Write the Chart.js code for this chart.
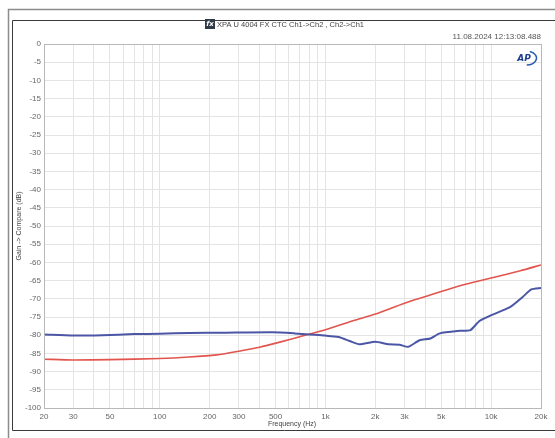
<!DOCTYPE html>
<html>
<head>
<meta charset="utf-8">
<script src="https://cdn.jsdelivr.net/npm/chart.js@4.4.1/dist/chart.umd.min.js"></script>
<style>
  html, body { margin: 0; padding: 0; background: #fff; }
  #wrap { position: relative; width: 555px; height: 438px; }
</style>
</head>
<body>
<div id="wrap"><canvas id="c" width="555" height="438"></canvas></div>
<script>
// values
const ch1Freq = [20, 30, 45, 70, 100, 150, 250, 480, 650, 800, 1000, 1200, 1400, 1600, 2000, 2400, 2800, 3150, 3700, 4300, 4900, 6500, 7500, 8500, 10000, 13000, 15500, 17500, 20000];
const ch1Gain = [-79.8, -80.1, -80.0, -79.7, -79.6, -79.4, -79.3, -79.2, -79.5, -79.8, -80.1, -80.5, -81.6, -82.5, -81.8, -82.5, -82.6, -83.2, -81.4, -80.9, -79.5, -78.8, -78.6, -76.1, -74.5, -72.3, -69.5, -67.4, -67.0];

const ch2Freq = [20, 30, 50, 100, 150, 220, 300, 400, 530, 700, 1000, 1500, 2000, 3000, 5000, 7000, 10000, 15000, 20000];
const ch2Gain = [-86.6, -86.8, -86.7, -86.4, -86.0, -85.4, -84.4, -83.3, -81.9, -80.4, -78.5, -75.9, -74.2, -71.2, -68.0, -66.0, -64.3, -62.3, -60.7];

const xLabels = { 20: '20', 30: '30', 50: '50', 100: '100', 200: '200', 300: '300', 500: '500',
  1000: '1k', 2000: '2k', 3000: '3k', 5000: '5k', 10000: '10k', 20000: '20k' };
const xGrid = [20, 30, 40, 50, 60, 70, 80, 90, 100, 200, 300, 400, 500, 600, 700, 800, 900,
  1000, 2000, 3000, 4000, 5000, 6000, 7000, 8000, 9000, 10000, 20000];

const pts = (xs, ys) => xs.map((x, i) => ({ x, y: ys[i] }));

const framePlugin = {
  id: 'frame',
  beforeDraw(chart) {
    const ctx = chart.ctx;
    ctx.save();
    ctx.fillStyle = '#fff';
    ctx.fillRect(0, 0, chart.width, chart.height);
    // outer window border
    ctx.strokeStyle = '#8c8c8c';
    ctx.lineWidth = 1.5;
    ctx.beginPath();
    ctx.moveTo(8.5, 438); ctx.lineTo(8.5, 9.5); ctx.lineTo(555, 9.5);
    ctx.stroke();
    // inner panel border
    ctx.strokeStyle = '#3a3a3a';
    ctx.lineWidth = 1;
    ctx.beginPath();
    ctx.moveTo(556, 20.5); ctx.lineTo(12.5, 20.5); ctx.lineTo(12.5, 430.5); ctx.lineTo(556, 430.5);
    ctx.stroke();
    ctx.restore();
  },
  afterDraw(chart) {
    const ctx = chart.ctx;
    const a = chart.chartArea;
    ctx.save();
    // plot border
    ctx.strokeStyle = '#b8b8b8';
    ctx.lineWidth = 1;
    ctx.strokeRect(a.left + 0.5, a.top + 0.5, a.right - a.left, a.bottom - a.top);

    // title with icon
    ctx.fillStyle = '#2f3b48';
    ctx.fillRect(205, 19, 10, 10);
    ctx.fillStyle = '#fff';
    ctx.font = 'italic bold 7px "DejaVu Sans"';
    ctx.textBaseline = 'middle';
    ctx.textAlign = 'center';
    ctx.fillText('fx', 210, 24.5);
    ctx.fillStyle = '#444';
    ctx.font = '7.5px "Liberation Sans"';
    ctx.textAlign = 'left';
    ctx.fillText('XPA U 4004 FX CTC Ch1->Ch2 , Ch2->Ch1', 217, 24.5);

    // timestamp
    ctx.fillStyle = '#555';
    ctx.font = '8px "Liberation Sans"';
    ctx.textAlign = 'right';
    ctx.fillText('11.08.2024 12:13:08.488', 541, 37);

    // AP logo
    ctx.strokeStyle = '#2a5bb0';
    ctx.lineWidth = 1.5;
    ctx.beginPath();
    ctx.ellipse(526, 58, 10.5, 7, 0, -1.2, 1.5);
    ctx.stroke();
    ctx.fillStyle = '#1f3f8f';
    ctx.font = 'italic bold 9px "DejaVu Sans"';
    ctx.textAlign = 'center';
    ctx.fillText('AP', 524, 58.5);

    // axis titles
    ctx.fillStyle = '#444';
    ctx.font = '7px "Liberation Sans"';
    ctx.textAlign = 'center';
    ctx.fillText('Frequency (Hz)', 292, 424);
    ctx.translate(19, 226);
    ctx.rotate(-Math.PI / 2);
    ctx.fillText('Gain -> Compare (dB)', 0, 0);
    ctx.restore();
  }
};

new Chart(document.getElementById('c'), {
  type: 'scatter',
  data: {
    datasets: [
      { label: 'Ch1->Ch2', data: pts(ch1Freq, ch1Gain), showLine: true, borderColor: '#4b57a6', borderWidth: 2, pointRadius: 0, tension: 0.2 },
      { label: 'Ch2->Ch1', data: pts(ch2Freq, ch2Gain), showLine: true, borderColor: '#e2554e', borderWidth: 1.6, pointRadius: 0, tension: 0.2 }
    ]
  },
  options: {
    responsive: false,
    animation: false,
    layout: { padding: { left: 14, right: 14, top: 44, bottom: 10 } },
    plugins: { legend: { display: false }, tooltip: { enabled: false } },
    scales: {
      x: {
        type: 'logarithmic',
        min: 20, max: 20000,
        afterBuildTicks: s => { s.ticks = xGrid.map(v => ({ value: v })); },
        afterFit: s => { s.height = 20; },
        border: { display: false },
        grid: { color: '#e4e4e4', drawTicks: false },
        ticks: {
          autoSkip: false, maxRotation: 0, padding: 4,
          color: '#666', font: { family: 'Liberation Sans', size: 8 },
          callback: v => xLabels[v] || ''
        }
      },
      y: {
        min: -100, max: 0,
        afterFit: s => { s.width = 30; },
        border: { display: false },
        grid: { color: '#e4e4e4', drawTicks: false },
        ticks: { stepSize: 5, padding: 3, color: '#666', font: { family: 'Liberation Sans', size: 8 } }
      }
    }
  },
  plugins: [framePlugin]
});
</script>
</body>
</html>
